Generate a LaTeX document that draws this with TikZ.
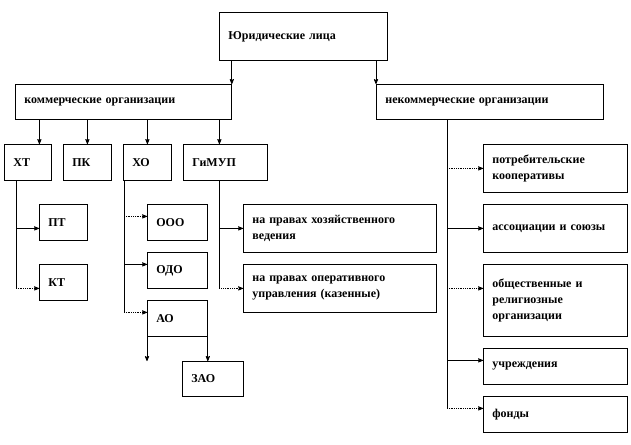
\documentclass[tikz,border=0pt]{standalone}
\usepackage{fontspec}
\setmainfont{Liberation Serif}
\usepackage{tikz}
\usetikzlibrary{arrows}
\usetikzlibrary{shadows}
\tikzset{
	org node/.style={rectangle,draw,fill=white,anchor=north west,align=left,inner xsep=9pt,inner ysep=0pt,
		font=\fontsize{12}{16}\selectfont\bfseries,
		drop shadow={shadow xshift=1pt,shadow yshift=-1pt,fill=gray!70,opacity=1}},
	dot edge/.style={densely dotted}
}

\begin{document}
\begin{tikzpicture}[->,>=stealth',x=1pt,y=-1pt,line width=0.8pt]
      \useasboundingbox (0,0) rectangle (631,444);
      \node[org node,text width=150pt,minimum height=48pt] (1) at (219,12) {Юридические лица};
      \node[org node,text width=198pt,minimum height=35pt] (2) at (15,84) {коммерческие организации};
      \node[org node,text width=209pt,minimum height=35pt] (3) at (376,84) {некоммерческие организации};

      \node[org node,text width=29pt,minimum height=36pt] (4) at (4,144) {ХТ};
      \node[org node,text width=30pt,minimum height=36pt] (5) at (63,144) {ПК};
      \node[org node,text width=30pt,minimum height=36pt] (6) at (123,144) {ХО};
      \node[org node,text width=66pt,minimum height=36pt] (7) at (183,144) {ГиМУП};

      \node[org node,text width=30pt,minimum height=36pt] (8) at (39,204) {ПТ};
      \node[org node,text width=30pt,minimum height=36pt] (9) at (39,264) {КТ};

      \node[org node,text width=42pt,minimum height=36pt] (10) at (147,204) {ООО};
      \node[org node,text width=42pt,minimum height=36pt] (11) at (147,252) {ОДО};
      \node[org node,text width=42pt,minimum height=36pt] (12) at (147,300) {АО};
      \node[org node,text width=43pt,minimum height=35pt] (13) at (182,361) {ЗАО};

      \node[org node,text width=175pt,minimum height=48pt] (14) at (243,204) {на правах хозяйственного\\ведения};
      \node[org node,text width=175pt,minimum height=48pt] (15) at (243,264) {на правах оперативного\\управления (казенные)};

      \node[org node,text width=126pt,minimum height=48pt] (16) at (483,144) {потребительские\\кооперативы};
      \node[org node,text width=126pt,minimum height=48pt] (17) at (483,204) {ассоциации и союзы};
      \node[org node,text width=126pt,minimum height=72pt] (18) at (483,264) {общественные и\\религиозные\\организации};
      \node[org node,text width=126pt,minimum height=36pt] (19) at (483,348) {учреждения};
      \node[org node,text width=126pt,minimum height=36pt] (20) at (483,396) {фонды};

      % first level
      \path (1.south -| 2.north east) edge (2.north east)
            (1.south -| 3.north west) edge (3.north west);

      % commercial
      \coordinate (a4) at ([xshift=11.5pt]4.north);
      \coordinate (a7) at ([xshift=-6pt]7.north);
      \path (a4 |- 2.south) edge (a4)
            (5.north |- 2.south) edge (5.north)
            (6.north |- 2.south) edge (6.north)
            (a7 |- 2.south) edge (a7);

      % XT
      \coordinate (b4) at ([xshift=12pt]4.south west);
      \coordinate (c8) at ([yshift=-6pt]8.west);
      \coordinate (c9) at ([yshift=-6pt]9.west);
      \draw[-] (b4) -- (b4 |- c9);
      \path (b4 |- c8) edge (c8)
            (b4 |- c9) edge[dot edge] (c9);

      % XO
      \coordinate (b6) at ([xshift=1pt]6.south west);
      \coordinate (c10) at ([yshift=6pt]10.west);
      \coordinate (c11) at ([yshift=6pt]11.west);
      \coordinate (c12) at ([yshift=6pt]12.west);
      \draw[-] (b6) -- (b6 |- c12);
      \path (b6 |- c10) edge[dot edge] (c10)
            (b6 |- c11) edge (c11)
            (b6 |- c12) edge[dot edge] (c12);

      % AO
      \coordinate (d12) at (12.south west |- 13.north);
      \path (12.south west) edge (d12)
            (12.south east) edge (12.south east |- 13.north);

      % GiMUP
      \coordinate (b7) at ([xshift=-6pt]7.south);
      \draw[-] (b7) -- (b7 |- 15.west);
      \path (b7 |- 14.west) edge (14.west)
            (b7 |- 15.west) edge[dot edge] (15.west);

      % non-commercial
      \coordinate (b3) at ([xshift=71pt]3.south west);
      \coordinate (c18) at ([yshift=12pt]18.west);
      \coordinate (c19) at ([yshift=6pt]19.west);
      \coordinate (c20) at ([yshift=6pt]20.west);
      \draw[-] (b3) -- (b3 |- c20);
      \path (b3 |- 16.west) edge[dot edge] (16.west)
            (b3 |- 17.west) edge (17.west)
            (b3 |- c18) edge[dot edge] (c18)
            (b3 |- c19) edge (c19)
            (b3 |- c20) edge[dot edge] (c20);
\end{tikzpicture}
\end{document}
